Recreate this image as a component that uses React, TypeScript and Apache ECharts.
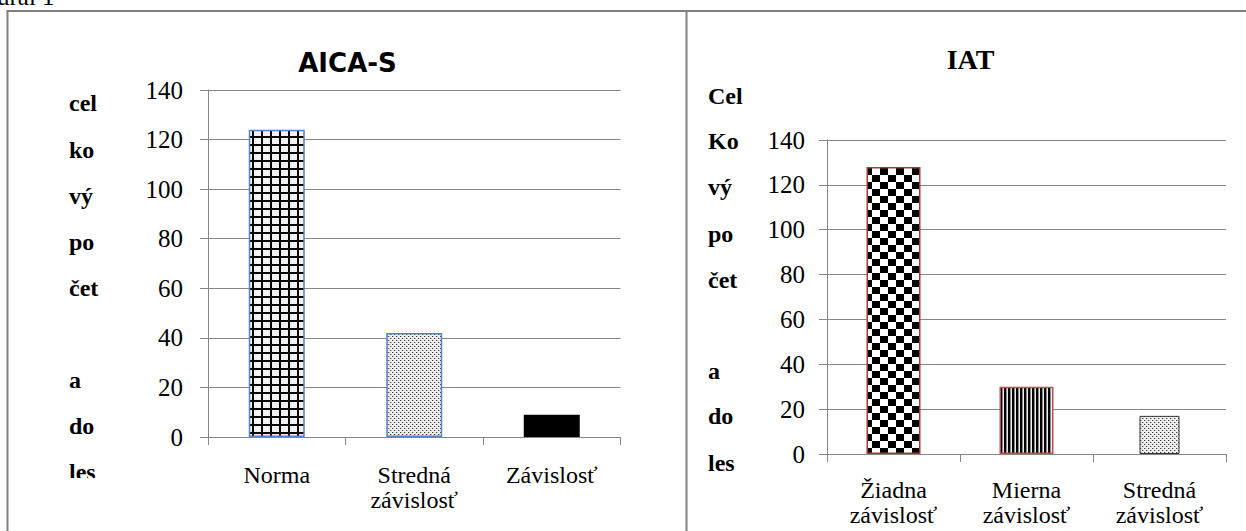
import React, { useEffect, useRef } from 'react';
import * as echarts from 'echarts';

// ---- data ----
const aicaCategories = ['Norma', 'Stredná\nzávislosť', 'Závislosť'];
const aicaValues = [124, 42, 9];
const iatCategories = ['Žiadna\nzávislosť', 'Mierna\nzávislosť', 'Stredná\nzávislosť'];
const iatValues = [128, 30, 17];
const axisMin = 0;
const axisMax = 140;
const axisStep = 20;
const aicaTitle = 'AICA-S';
const iatTitle = 'IAT';
const leftYTitle = ['cel', 'ko', 'vý', 'po', 'čet', '', 'a', 'do', 'les'];
const rightYTitle = ['Cel', 'Ko', 'vý', 'po', 'čet', '', 'a', 'do', 'les'];
const captionText = 'ural 1';

function makePattern(w: number, h: number, draw: (ctx: CanvasRenderingContext2D) => void) {
  const c = document.createElement('canvas');
  c.width = w;
  c.height = h;
  const ctx = c.getContext('2d') as CanvasRenderingContext2D;
  draw(ctx);
  return { image: c, repeat: 'repeat', imageWidth: w, imageHeight: h } as any;
}

export default function App() {
  const ref = useRef<HTMLDivElement>(null);

  useEffect(() => {
    if (!ref.current) return;
    const chart = echarts.init(ref.current, null, { renderer: 'svg' });

    const gridPat = makePattern(9, 8, (ctx) => {
      ctx.fillStyle = '#f2f2f2';
      ctx.fillRect(0, 0, 9, 8);
      ctx.fillStyle = '#000';
      ctx.fillRect(0, 0, 2, 8);
      ctx.fillRect(0, 0, 9, 2);
    });
    const dotPat = makePattern(4, 4, (ctx) => {
      ctx.fillStyle = '#efefef';
      ctx.fillRect(0, 0, 4, 4);
      ctx.fillStyle = '#3a3a3a';
      ctx.fillRect(0, 0, 1, 1);
      ctx.fillRect(2, 2, 1, 1);
      ctx.fillStyle = '#bdbdbd';
      ctx.fillRect(1, 0, 1, 1);
      ctx.fillRect(3, 2, 1, 1);
    });
    const checkPat = makePattern(16, 14, (ctx) => {
      ctx.fillStyle = '#fff';
      ctx.fillRect(0, 0, 16, 14);
      ctx.fillStyle = '#000';
      ctx.fillRect(0, 0, 8, 7);
      ctx.fillRect(8, 7, 8, 7);
    });
    const stripePat = makePattern(4, 4, (ctx) => {
      ctx.fillStyle = '#000';
      ctx.fillRect(0, 0, 2, 4);
      ctx.fillStyle = '#8a8a8a';
      ctx.fillRect(2, 0, 1, 4);
      ctx.fillStyle = '#ececec';
      ctx.fillRect(3, 0, 1, 4);
    });

    const leftStyles = [
      { color: gridPat, borderColor: '#5583c4', borderWidth: 1.5 },
      { color: dotPat, borderColor: '#5583c4', borderWidth: 1.5 },
      { color: '#000', borderWidth: 0 },
    ];
    const rightStyles = [
      { color: checkPat, borderColor: '#9e3b38', borderWidth: 1.5 },
      { color: stripePat, borderColor: '#bf4f4c', borderWidth: 1.5 },
      { color: dotPat, borderColor: '#333', borderWidth: 1 },
    ];

    const serif = 'Liberation Serif';
    const gridColor = '#868686';

    const xAxisBase = (gridIndex: number, data: string[], margin: number) => ({
      type: 'category',
      gridIndex,
      data,
      axisLine: { show: true, lineStyle: { color: gridColor, width: 1 } },
      axisTick: { show: true, length: 8, interval: 0, lineStyle: { color: gridColor, width: 1 } },
      axisLabel: {
        interval: 0,
        margin,
        fontFamily: serif,
        fontSize: 24,
        lineHeight: 25,
        color: '#000',
      },
      splitLine: { show: false },
    });

    const yAxisBase = (gridIndex: number, margin: number) => ({
      type: 'value',
      gridIndex,
      min: axisMin,
      max: axisMax,
      interval: axisStep,
      axisLine: { show: true, lineStyle: { color: gridColor, width: 1 } },
      axisTick: { show: true, length: 8, lineStyle: { color: gridColor, width: 1 } },
      axisLabel: { margin, fontFamily: serif, fontSize: 25, color: '#000' },
      splitLine: { show: true, lineStyle: { color: gridColor, width: 1 } },
    });

    const textEl = (text: string, x: number, y: number, font: string, align = 'left') => ({
      type: 'text',
      x,
      y,
      silent: true,
      style: {
        text,
        font,
        fill: '#000',
        align,
        verticalAlign: 'middle',
        textAlign: align,
        textVerticalAlign: 'middle',
      },
    });

    const leftCenters = [102.6, 149.6, 195.6, 241.6, 287.6, 333.6, 379.6, 425.6, 471.6];
    const rightCenters = [95.6, 140.6, 186.6, 233.6, 279.6, 325.6, 370.6, 415.6, 462.6];

    const graphics: any[] = [];
    graphics.push({ type: 'line', silent: true, shape: { x1: 7.5, y1: 11, x2: 7.5, y2: 531 }, style: { stroke: '#808080', lineWidth: 2 } });
    graphics.push({ type: 'line', silent: true, shape: { x1: 6.5, y1: 11, x2: 1246, y2: 11 }, style: { stroke: '#808080', lineWidth: 2 } });
    graphics.push({ type: 'line', silent: true, shape: { x1: 686.5, y1: 11, x2: 686.5, y2: 531 }, style: { stroke: '#808080', lineWidth: 2 } });
    graphics.push(textEl(captionText, -3, -4, `25px "${serif}"`));
    graphics.push(textEl(aicaTitle, 347.5, 62.5, 'bold 26px "DejaVu Sans"', 'center'));
    graphics.push(textEl(iatTitle, 970.5, 59.5, `bold 28px "${serif}"`, 'center'));
    leftYTitle.forEach((t, i) => {
      if (t) graphics.push(textEl(t, 69, leftCenters[i], `bold 24px "${serif}"`));
    });
    graphics.push({ type: 'rect', silent: true, shape: { x: 60, y: 478, width: 60, height: 30 }, style: { fill: '#fff' } });
    rightYTitle.forEach((t, i) => {
      if (t) graphics.push(textEl(t, 708, rightCenters[i], `bold 24px "${serif}"`));
    });

    chart.setOption({
      animation: false,
      backgroundColor: '#fff',
      grid: [
        { left: 208, top: 90, width: 412.5, height: 347 },
        { left: 827, top: 140, width: 399, height: 314 },
      ],
      xAxis: [
        xAxisBase(0, aicaCategories, 25),
        xAxisBase(1, iatCategories, 23),
        { ...xAxisBase(1, iatCategories, 23), show: false },
      ],
      yAxis: [yAxisBase(0, 25), yAxisBase(1, 22)],
      series: [
        {
          type: 'bar',
          xAxisIndex: 0,
          yAxisIndex: 0,
          barWidth: 56,
          silent: true,
          data: aicaValues.map((v, i) => ({ value: v, itemStyle: leftStyles[i] })),
        },
        {
          type: 'bar',
          xAxisIndex: 1,
          yAxisIndex: 1,
          barWidth: 54,
          silent: true,
          data: iatValues.map((v, i) => (i < 2 ? { value: v, itemStyle: rightStyles[i] } : '-')),
        },
        {
          type: 'bar',
          xAxisIndex: 2,
          yAxisIndex: 1,
          barWidth: 40,
          silent: true,
          data: iatValues.map((v, i) => (i === 2 ? { value: v, itemStyle: rightStyles[i] } : '-')),
        },
      ],
      graphic: { elements: graphics },
    } as any);

    return () => chart.dispose();
  }, []);

  return (
    <div
      ref={ref}
      style={{ position: 'absolute', left: 0, top: 0, width: 1246, height: 531 }}
    />
  );
}
